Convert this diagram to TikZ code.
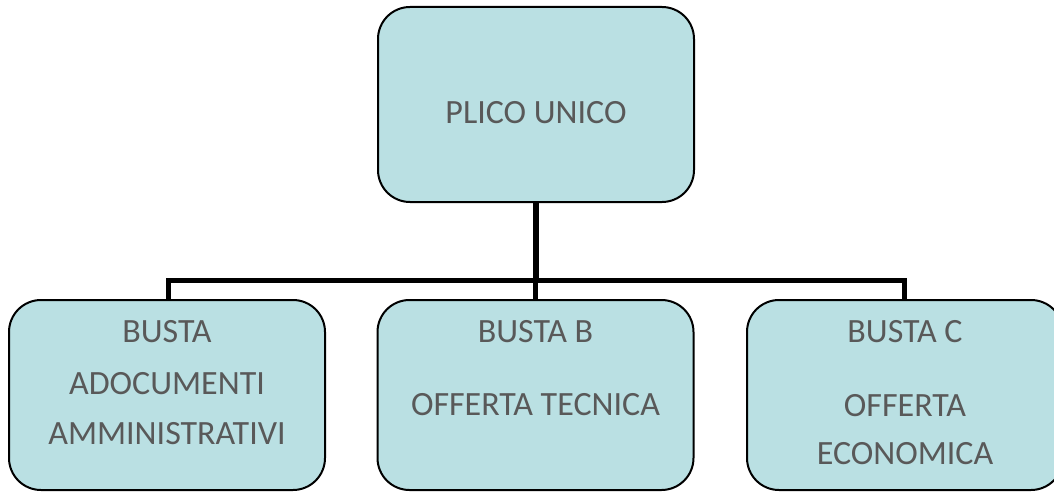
\documentclass[tikz,border=0pt]{standalone}
\usepackage{fontspec}
\setmainfont{Carlito}
\definecolor{boxfill}{HTML}{BAE0E3}
\definecolor{boxtext}{HTML}{595959}
\tikzset{
  busta/.style={draw=black, line width=2pt, fill=boxfill, rounded corners=32pt,
    minimum width=316pt, minimum height=190pt, inner sep=0pt},
  voce/.style={anchor=base, text=boxtext, font=\fontsize{34}{40}\selectfont, inner sep=0pt},
  ramo/.style={line width=5.5pt}
}
\begin{document}
\begin{tikzpicture}[x=1pt,y=1pt]
    \useasboundingbox (0,0) rectangle (1054,491);
    % boxes
    \node [busta, minimum height=195pt] (plico) at (536,386.5) {};
    \node [busta] (bustaa) at (167,96) {};
    \node [busta] (bustab) at (535.5,96) {};
    \node [busta] (bustac) at (905,96) {};
    % connectors
    \coordinate (snodo) at (536,210.5);
    \draw [ramo] (plico.south) -- (snodo);
    \draw [ramo] ([xshift=1.5pt]bustaa.north) |- (snodo) -| ([xshift=-0.5pt]bustac.north);
    \draw [ramo] (bustab.north) -- (bustab.north |- snodo);
    % texts
    \node [voce] (plicot) at ([yshift=-19.5pt]plico.center) {PLICO UNICO};
    \node [voce] (bustaa1) at ([yshift=-43pt]bustaa.north) {BUSTA};
    \node [voce] (bustaa2) at ([yshift=-95pt]bustaa.north) {ADOCUMENTI};
    \node [voce] (bustaa3) at ([yshift=-145pt]bustaa.north) {AMMINISTRATIVI};
    \node [voce] (bustab1) at ([yshift=-43pt]bustab.north) {BUSTA B};
    \node [voce] (bustab2) at ([yshift=-116pt]bustab.north) {OFFERTA TECNICA};
    \node [voce] (bustac1) at ([yshift=-43pt]bustac.north) {BUSTA C};
    \node [voce] (bustac2) at ([yshift=-117pt]bustac.north) {OFFERTA};
    \node [voce] (bustac3) at ([yshift=-165pt]bustac.north) {ECONOMICA};
  \end{tikzpicture}
\end{document}
